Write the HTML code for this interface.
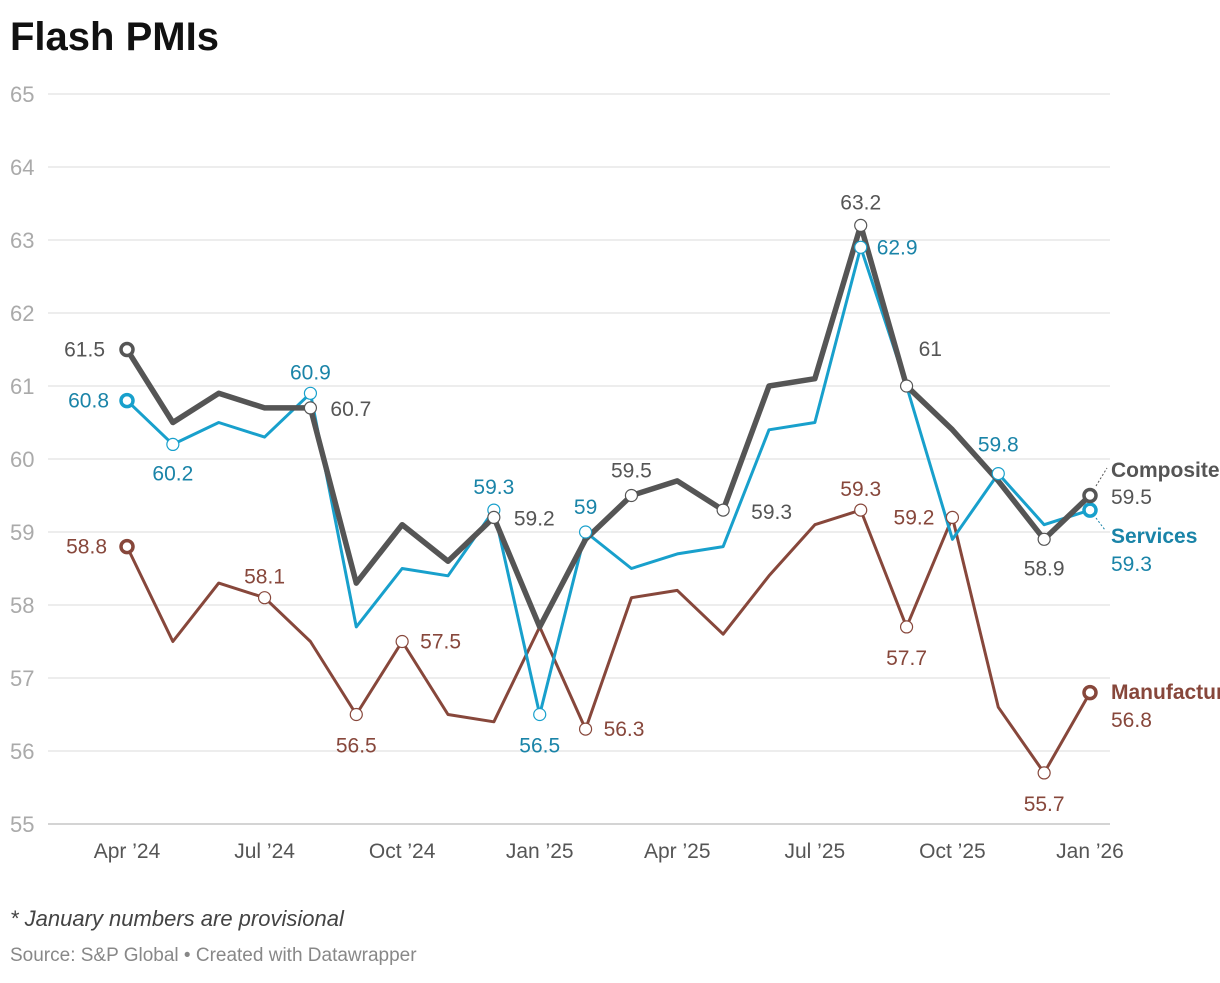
<!DOCTYPE html>
<html><head><meta charset="utf-8"><style>
body{margin:0;width:1220px;height:978px;overflow:hidden;background:#fff;font-family:"Liberation Sans",sans-serif;}
</style></head><body>
<svg width="1220" height="978" xmlns="http://www.w3.org/2000/svg" style="font-family:'Liberation Sans',sans-serif">
<text x="10" y="50" font-size="40" font-weight="bold" fill="#111">Flash PMIs</text>
<g id="grid"></g><g id="lines"></g><g id="labels"></g>
<text x="10" y="926" font-size="22" font-style="italic" fill="#444">* January numbers are provisional</text>
<text x="10" y="961" font-size="19" fill="#888">Source: S&amp;P Global • Created with Datawrapper</text>
</svg>
<script>
const months=22;
const xTicks=["Apr ’24","Jul ’24","Oct ’24","Jan ’25","Apr ’25","Jul ’25","Oct ’25","Jan ’26"];
const xTickIdx=[0,3,6,9,12,15,18,21];
const yTicks=[55,56,57,58,59,60,61,62,63,64,65];
const composite=[61.5,60.5,60.9,60.7,60.7,58.3,59.1,58.6,59.2,57.7,58.9,59.5,59.7,59.3,61.0,61.1,63.2,61.0,60.4,59.7,58.9,59.5];
const services=[60.8,60.2,60.5,60.3,60.9,57.7,58.5,58.4,59.3,56.5,59.0,58.5,58.7,58.8,60.4,60.5,62.9,61.0,58.9,59.8,59.1,59.3];
const manufacturing=[58.8,57.5,58.3,58.1,57.5,56.5,57.5,56.5,56.4,57.7,56.3,58.1,58.2,57.6,58.4,59.1,59.3,57.7,59.2,56.6,55.7,56.8];
const X=i=>127+i*(1090-127)/21;
const Y=v=>824-(v-55)*73;
const NS="http://www.w3.org/2000/svg";
function mk(p,t,a){const e=document.createElementNS(NS,t);for(const k in a)e.setAttribute(k,a[k]);p.appendChild(e);return e;}
const grid=document.getElementById('grid'),lines=document.getElementById('lines'),labels=document.getElementById('labels');
yTicks.forEach(v=>{
 const l=mk(grid,'line',{x1:48,x2:1110,y1:Y(v),y2:Y(v),stroke:v==55?'#bbb':'#e2e2e2','stroke-width':1.3});
 
 
 const t=mk(grid,'text',{x:10,y:Y(v)+8,'font-size':22,fill:'#aaa'});t.textContent=v;
 
 
});
xTicks.forEach((s,k)=>{
 const t=mk(grid,'text',{x:X(xTickIdx[k]),y:858,'font-size':21,fill:'#555','text-anchor':'middle'});t.textContent=s;
 
 
});
const series=[
 {n:'manufacturing',d:manufacturing,c:'#87473b',tc:'#87473b',w:3,
  lab:[[0,-20,7,'end'],[3,0,-14,'middle'],[5,0,38,'middle'],[6,18,7,'start'],[10,18,7,'start'],[16,0,-14,'middle'],[18,-18,7,'end'],[17,0,38,'middle'],[20,0,38,'middle']],end:'Manufacturing'},
 {n:'services',d:services,c:'#18a0cc',tc:'#1a84a8',w:3,
  lab:[[0,-18,7,'end'],[1,0,36,'middle'],[4,0,-14,'middle'],[8,0,-16,'middle'],[9,0,38,'middle'],[10,0,-18,'middle'],[16,16,7,'start'],[19,0,-22,'middle']],end:'Services'},
 {n:'composite',d:composite,c:'#555',tc:'#555',w:5.5,
  lab:[[0,-22,7,'end'],[4,20,8,'start'],[8,20,8,'start'],[11,0,-18,'middle'],[13,28,9,'start'],[16,0,-16,'middle'],[17,12,-30,'start'],[20,0,36,'middle']],end:'Composite'}
];
series.forEach(s=>{
 const p=mk(lines,'polyline',{points:s.d.map((v,i)=>X(i)+','+Y(v)).join(' '),fill:'none',stroke:s.c,'stroke-width':s.w,'stroke-linejoin':'round'});
 
 
 s.lab.forEach(([i,dx,dy,a])=>{
  const c=mk(labels,'circle',{cx:X(i),cy:Y(s.d[i]),r:6,fill:'#fff',stroke:s.c,'stroke-width':1.2});
  
  
  const t=mk(labels,'text',{x:X(i)+dx,y:Y(s.d[i])+dy,'font-size':21,fill:s.tc,'text-anchor':a});t.textContent=s.d[i];
  
  
 });
 [0,months-1].forEach(i=>{
  const c=mk(labels,'circle',{cx:X(i),cy:Y(s.d[i]),r:6,fill:'#fff',stroke:s.c,'stroke-width':3.5});
  
  
 });
});
const endY={composite:[470,497],services:[536,564],manufacturing:[692,720]};
series.forEach(s=>{
 const [y1,y2]=endY[s.n];
 const t=mk(labels,'text',{x:1111,y:y1+7,'font-size':21,'font-weight':'bold',fill:s.tc});t.textContent=s.end;
 
 
 const v=mk(labels,'text',{x:1111,y:y2+7,'font-size':21,fill:s.tc});v.textContent=s.d[months-1];
 
 
});
mk(labels,'line',{x1:1096,y1:486,x2:1107,y2:468,stroke:'#555','stroke-dasharray':'2,2'});
mk(labels,'line',{x1:1096,y1:518,x2:1105,y2:530,stroke:'#1a84a8','stroke-dasharray':'2,2'});
</script>
</body></html>
